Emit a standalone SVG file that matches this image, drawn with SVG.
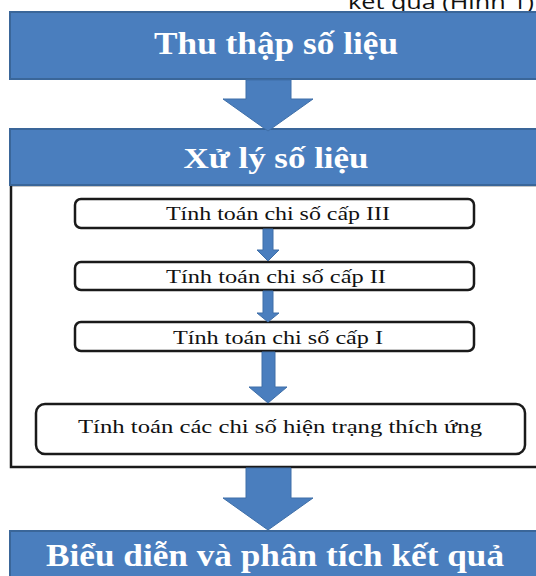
<svg xmlns="http://www.w3.org/2000/svg" width="536" height="576" viewBox="0 0 536 576">
  <style>
    .band { fill: #4a7ebe; stroke: #3a6699; stroke-width: 2; }
    .panel { fill: #ffffff; stroke: #1a1a1a; stroke-width: 2.5; }
    .step { fill: #ffffff; stroke: #1a1a1a; stroke-width: 2.5; }
    .arrow { fill: #4a7ebe; stroke: #3f6fa8; stroke-width: 1; }
    .head { font-family: "Liberation Serif", "Times New Roman", serif; font-weight: bold; fill: #ffffff; text-anchor: middle; }
    .label { font-family: "Liberation Serif", "Times New Roman", serif; fill: #111111; text-anchor: middle; }
    .note { font-family: "Open Sans", "Liberation Sans", sans-serif; fill: #111111; }
  </style>

  <rect width="536" height="576" fill="#ffffff"/>

  <!-- caption line running above the chart, cut at the top edge -->
  <text class="note" x="348" y="9" font-size="20" textLength="186" lengthAdjust="spacingAndGlyphs">kết quả (Hình 1)</text>

  <g id="collect">
    <rect class="band" x="10" y="12" width="540" height="67"/>
    <text class="head" x="276" y="54" font-size="32" textLength="244" lengthAdjust="spacingAndGlyphs">Thu thập số liệu</text>
  </g>

  <g id="process">
    <rect class="panel" x="11" y="185" width="540" height="282"/>
    <rect class="band" x="10" y="129" width="540" height="56"/>
    <text class="head" x="276" y="168" font-size="30" textLength="185" lengthAdjust="spacingAndGlyphs">Xử lý số liệu</text>
  </g>

  <g id="level3">
    <rect class="step" x="75" y="199" width="399" height="29" rx="6"/>
    <text class="label" x="278" y="220" font-size="19" textLength="224" lengthAdjust="spacingAndGlyphs">Tính toán chi số cấp III</text>
  </g>

  <g id="level2">
    <rect class="step" x="75" y="262" width="399" height="28" rx="6"/>
    <text class="label" x="276" y="283" font-size="19" textLength="220" lengthAdjust="spacingAndGlyphs">Tính toán chi số cấp II</text>
  </g>

  <g id="level1">
    <rect class="step" x="75" y="322" width="399" height="29" rx="6"/>
    <text class="label" x="278" y="344" font-size="19" textLength="210" lengthAdjust="spacingAndGlyphs">Tính toán chi số cấp I</text>
  </g>

  <g id="adaptation">
    <rect class="step" x="36" y="404" width="489" height="50" rx="9"/>
    <text class="label" x="280" y="433" font-size="19" textLength="404" lengthAdjust="spacingAndGlyphs">Tính toán các chi số hiện trạng thích ứng</text>
  </g>

  <g id="results">
    <rect class="band" x="10" y="531" width="540" height="50"/>
    <text class="head" x="275" y="566" font-size="32" textLength="458" lengthAdjust="spacingAndGlyphs">Biểu diễn và phân tích kết quả</text>
  </g>

  <g id="connectors">
    <!-- wide arrows between the main stages -->
    <polygon class="arrow" points="246,80 291,80 291,99 313,99 268,131 223,99 246,99"/>
    <polygon class="arrow" points="246,468 291,468 291,498 313,498 268,530 223,498 246,498"/>
    <!-- narrow arrows between the calculation steps -->
    <polygon class="arrow" points="263,229 273,229 273,250 279,250 268,261 257,250 263,250"/>
    <polygon class="arrow" points="263,291 273,291 273,313 279,313 268,322 257,313 263,313"/>
    <polygon class="arrow" points="262,352 275,352 275,387 287,387 268,403 249,387 262,387"/>
  </g>
</svg>
